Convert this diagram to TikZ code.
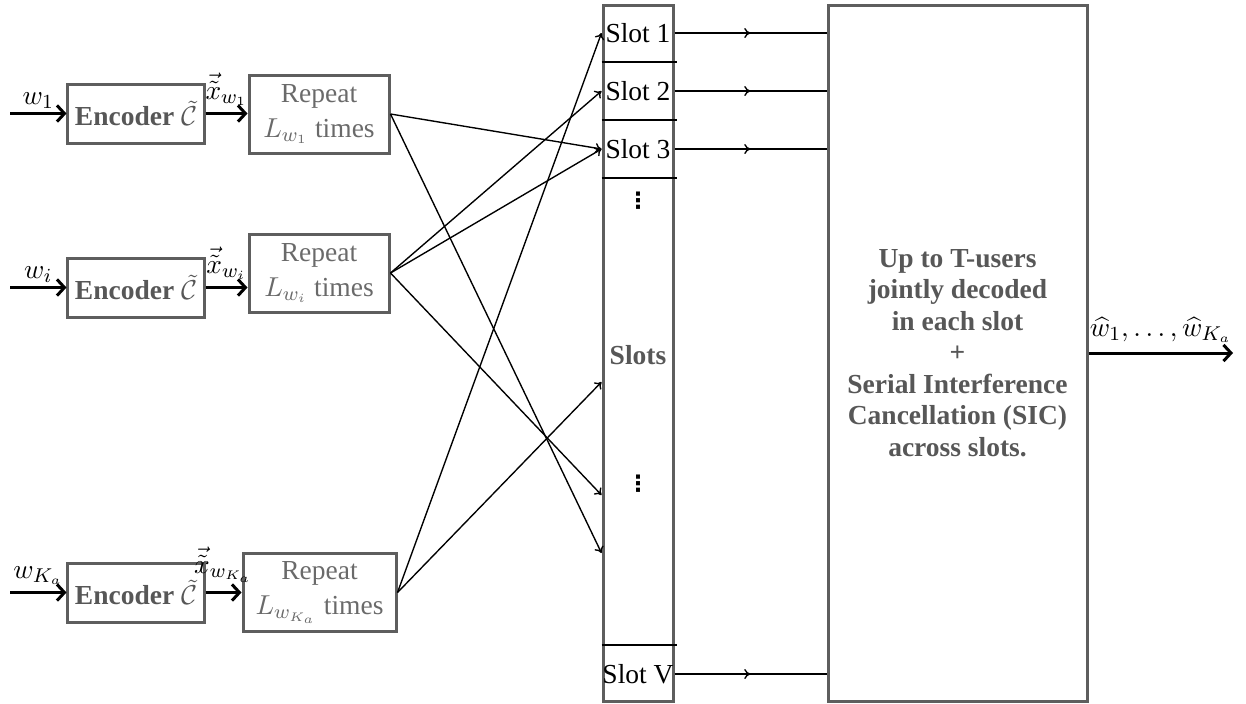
\documentclass[tikz,border=0pt]{standalone}
\usepackage{fontspec}
\setmainfont{Liberation Serif}
\newfontfamily\dejavu{DejaVu Sans}
\usetikzlibrary{arrows.meta,decorations.markings,calc}
\definecolor{boxgray}{HTML}{5E5E5E}
\definecolor{txtgray}{HTML}{575757}
\definecolor{reptxt}{HTML}{6A6A6A}
\begin{document}
\fontsize{11}{12.6}\selectfont
\begin{tikzpicture}[x=0.4pt,y=-0.4pt,
  box/.style={draw=boxgray, line width=1.2pt, inner sep=0pt, align=center},
  encbox/.style={box, minimum width=54.4pt, minimum height=23.6pt, text=txtgray, font=\bfseries},
  repbox/.style={box, minimum width=56pt, minimum height=31.2pt, text=reptxt},
  thickarrow/.style={line width=1.2pt, -{Straight Barb[length=3pt,width=6.5pt]}},
  link/.style={line width=0.55pt, -{To[length=2.5pt,width=4pt]}},
  midarrow/.style={line width=0.55pt, postaction={decorate},
    decoration={markings, mark=at position 0.5 with {\arrow{To[length=2.5pt,width=4pt]}}}},
  lbl/.style={inner sep=1.5pt},
  vdotsnode/.style={inner sep=0pt, font=\dejavu\bfseries\fontsize{9}{9}\selectfont}]
\useasboundingbox (0,0) rectangle (1246,703);

% encoders
\node[encbox] (enc1) at (136,113.5) {Encoder $\tilde{\mathcal{C}}$};
\node[encbox] (enci) at (136,287.5) {Encoder $\tilde{\mathcal{C}}$};
\node[encbox] (encK) at (136,592.5) {Encoder $\tilde{\mathcal{C}}$};

% repeat boxes
\node[repbox] (rep1) at (319,114) {Repeat\\[1.5pt]$L_{w_1}$ times};
\node[repbox] (repi) at (319,273) {Repeat\\[1.5pt]$L_{w_i}$ times};
\node[repbox, minimum width=61.2pt] (repK) at (319.5,592.5) {Repeat\\[1.5pt]$L_{w_{K_a}}$ times};

% inputs
\coordinate (in1) at (10,113.5);
\coordinate (ini) at (10,287.5);
\coordinate (inK) at (10,592.5);
\draw[thickarrow] (in1) -- node[above, lbl] {$w_1$} (enc1.west);
\draw[thickarrow] (ini) -- node[above, lbl] {$w_i$} (enci.west);
\draw[thickarrow] (inK) -- node[above, lbl, inner sep=2.5pt] {$w_{K_a}$} (encK.west);

\draw[thickarrow] (enc1.east) -- node[above, lbl, inner sep=2.5pt] {$\vec{\tilde{x}}_{w_1}$} (rep1.west |- enc1.east);
\draw[thickarrow] (enci.east) -- node[above, lbl, inner sep=2.5pt] {$\vec{\tilde{x}}_{w_i}$} (repi.west |- enci.east);
\draw[thickarrow] (encK.east) -- node[above, lbl, inner sep=3.5pt] {$\vec{\tilde{x}}_{w_{K_a}}$} (repK.west |- encK.east);

% slots column
\node[box, minimum width=28pt, minimum height=278.4pt] (slots) at (638,353) {};
\node[inner sep=0pt] (sl1) at (638,33) {Slot 1};
\node[inner sep=0pt] (sl2) at (638,91) {Slot 2};
\node[inner sep=0pt] (sl3) at (638,149) {Slot 3};
\node[inner sep=0pt] (slV) at (638,674) {Slot V};
\node[text=txtgray, font=\bfseries] (slotslbl) at (638,355) {Slots};
\node[vdotsnode] (dots1) at (638,201) {⋮};
\node[vdotsnode] (dots2) at (638,484) {⋮};
\foreach \yy in {62,120,178,645}
  \draw[line width=0.5pt] (slots.west |- 0,\yy) -- ([xshift=0.8pt]slots.east |- 0,\yy);

% decoder
\node[box, minimum width=103.6pt, minimum height=278.4pt, text=txtgray, font=\bfseries] (dec) at (957.5,353)
  {Up to T-users\\jointly decoded\\in each slot\\+\\Serial Interference\\Cancellation (SIC)\\across slots.};

% slot targets
\coordinate (t1) at (slots.west |- 0,382);
\coordinate (t2) at (slots.west |- 0,495);
\coordinate (t3) at (slots.west |- 0,553);

% links
\draw[link] (rep1.east) -- (slots.west |- sl3);
\draw[link] (rep1.east) -- (t3);
\draw[link] (repi.east) -- (slots.west |- sl2);
\draw[link] (repi.east) -- (slots.west |- sl3);
\draw[link] (repi.east) -- (t2);
\draw[link] (repK.east) -- (slots.west |- sl1);
\draw[link] (repK.east) -- (t1);

% slot outputs
\draw[midarrow] (slots.east |- sl1) -- (dec.west |- sl1);
\draw[midarrow] (slots.east |- sl2) -- (dec.west |- sl2);
\draw[midarrow] (slots.east |- sl3) -- (dec.west |- sl3);
\draw[midarrow] (slots.east |- slV) -- (dec.west |- slV);

% output
\coordinate (out) at (1233,353);
\draw[thickarrow] (dec.east |- out) -- node[above, inner sep=3.5pt] {$\widehat{w}_1,\ldots,\widehat{w}_{K_a}$} (out);
\end{tikzpicture}
\end{document}
